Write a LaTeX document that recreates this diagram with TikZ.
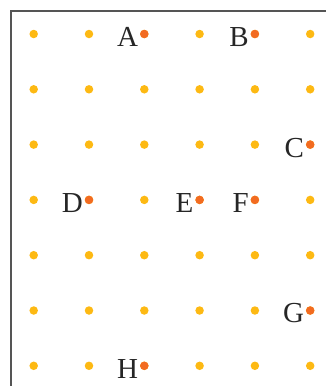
\documentclass[tikz,border=0pt]{standalone}
\usepackage{fontspec}
\setmainfont{Liberation Serif}
\definecolor{dotY}{HTML}{FDB913}
\definecolor{dotO}{HTML}{F26B21}
\definecolor{frameC}{HTML}{555555}
\begin{document}
\begin{tikzpicture}[x=1pt,y=-1pt,
  ydot/.style={circle,fill=dotY,inner sep=0pt,minimum size=8.5pt},
  odot/.style={circle,fill=dotO,inner sep=0pt,minimum size=8.5pt},
  lab/.style={font=\fontsize{29}{29}\selectfont,inner sep=0pt,anchor=east,text=black!85},
  framel/.style={draw=frameC,line width=1.5pt}]
\useasboundingbox (0,0) rectangle (326,386);
% grid of dots
\foreach \i in {0,...,5}{
  \foreach \j in {0,...,6}{
    \node[ydot] (d-\i-\j) at ({33.7+55.3*\i},{34+55.3*\j}) {};
  }
}
% highlighted points
\node[odot] (A) at (d-2-0) {};
\node[odot] (B) at (d-4-0) {};
\node[odot] (C) at (d-5-2) {};
\node[odot] (D) at (d-1-3) {};
\node[odot] (E) at (d-3-3) {};
\node[odot] (F) at (d-4-3) {};
\node[odot] (G) at (d-5-5) {};
\node[odot] (H) at (d-2-6) {};
\foreach \p in {A,B,C,D,E,F,G,H}{
  \node[lab] (l\p) at ([xshift=-6pt,yshift=-3pt]\p.center) {\p};
}
% frame
\coordinate (fTL) at (11,11);
\coordinate (fTR) at (330,11);
\coordinate (fBL) at (11,390);
\draw[framel] (fTR) -- (fTL) -- (fBL);
\end{tikzpicture}
\end{document}
